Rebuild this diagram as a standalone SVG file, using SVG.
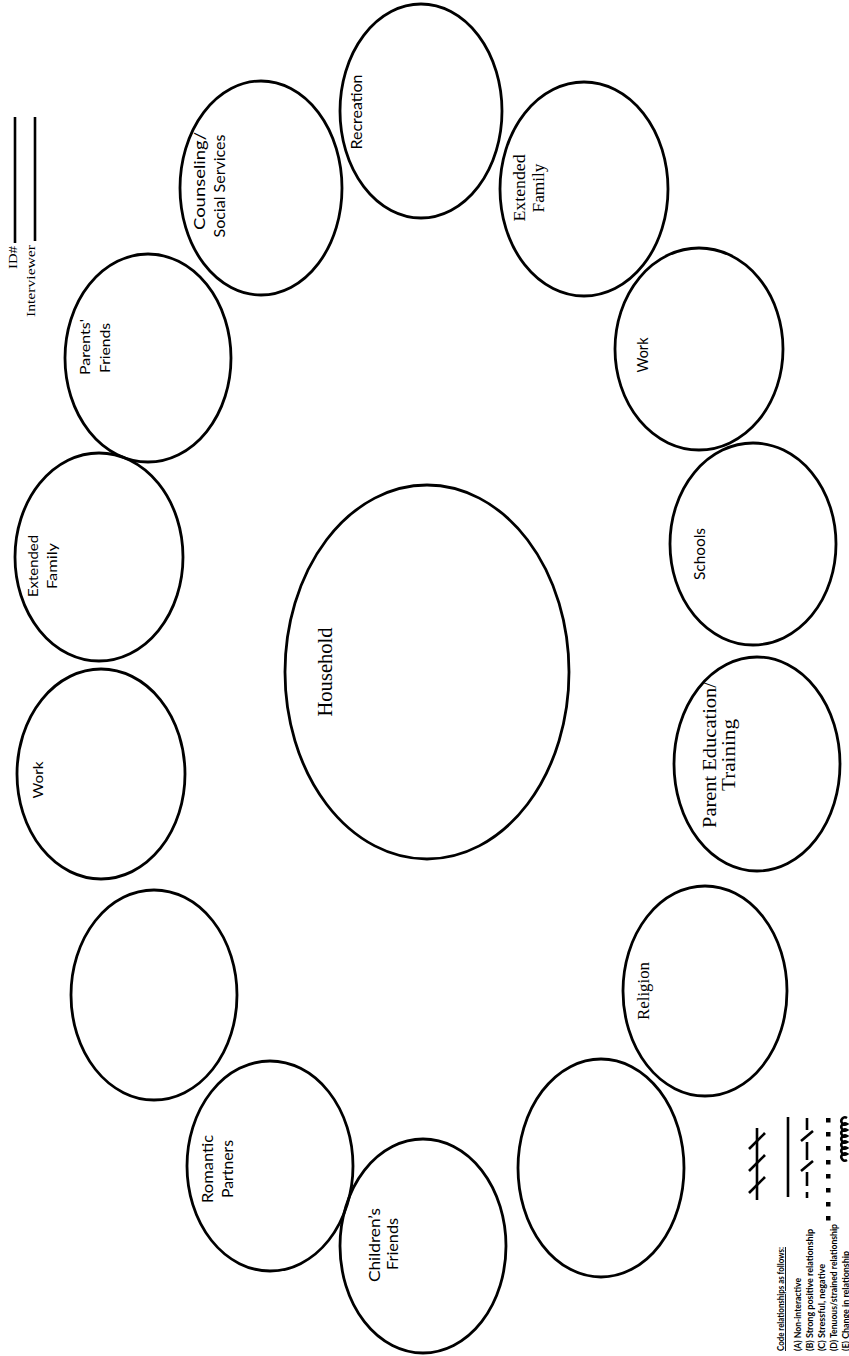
<svg xmlns="http://www.w3.org/2000/svg" width="849" height="1356" viewBox="0 0 849 1356">
<style>
.n{fill:none;stroke:#000;stroke-width:2.8}
.s{font-family:Lato,"Open Sans",sans-serif;font-size:15px;fill:#000}
.c{font-family:Lato,"Open Sans",sans-serif;font-size:14px;fill:#000}
.r{font-family:"Liberation Serif","DejaVu Serif",serif;font-size:17px;fill:#000}
.lg{font-family:Lato,"Open Sans",sans-serif;font-size:9px;font-weight:bold;fill:#000}
.ln{stroke:#000;stroke-width:2.6;fill:none}
</style>
<rect width="849" height="1356" fill="#fff"/>
<g id="header">
<line class="ln" x1="15" y1="117" x2="15" y2="243"/>
<line class="ln" x1="35" y1="117" x2="35" y2="241"/>
<text class="r" style="font-size:13px" transform="translate(17,246) rotate(-90)" text-anchor="end" textLength="23" lengthAdjust="spacingAndGlyphs">ID#</text>
<text class="r" style="font-size:13px" transform="translate(35,245) rotate(-90)" text-anchor="end" textLength="72" lengthAdjust="spacingAndGlyphs">Interviewer</text>
</g>
<g id="household"><ellipse class="n" cx="427" cy="672" rx="142" ry="187"/>
<text class="r" style="font-size:20px" transform="translate(332,672) rotate(-90)" text-anchor="middle" textLength="89" lengthAdjust="spacingAndGlyphs">Household</text></g>
<g id="recreation"><ellipse class="n" cx="421" cy="111" rx="81" ry="107"/>
<text class="s" style="font-size:16px" transform="translate(362,112) rotate(-90)" text-anchor="middle" textLength="75" lengthAdjust="spacingAndGlyphs">Recreation</text></g>
<g id="counseling"><ellipse class="n" cx="261" cy="188" rx="81" ry="107"/>
<text class="s" transform="translate(205,181) rotate(-90)" text-anchor="middle" textLength="98" lengthAdjust="spacingAndGlyphs">Counseling/</text>
<text class="s" transform="translate(225,186) rotate(-90)" text-anchor="middle" textLength="103" lengthAdjust="spacingAndGlyphs">Social Services</text></g>
<g id="parents-friends"><ellipse class="n" cx="148" cy="358" rx="83" ry="104"/>
<text class="c" transform="translate(90,347) rotate(-90)" text-anchor="middle" textLength="56" lengthAdjust="spacingAndGlyphs">Parents'</text>
<text class="c" transform="translate(110,348) rotate(-90)" text-anchor="middle" textLength="50" lengthAdjust="spacingAndGlyphs">Friends</text></g>
<g id="extended-family-left"><ellipse class="n" cx="99" cy="557" rx="84" ry="104"/>
<text class="c" transform="translate(38,566) rotate(-90)" text-anchor="middle" textLength="62" lengthAdjust="spacingAndGlyphs">Extended</text>
<text class="c" transform="translate(57,566) rotate(-90)" text-anchor="middle" textLength="46" lengthAdjust="spacingAndGlyphs">Family</text></g>
<g id="work-left"><ellipse class="n" cx="101" cy="774" rx="84" ry="105"/>
<text class="c" transform="translate(43,780) rotate(-90)" text-anchor="middle" textLength="37" lengthAdjust="spacingAndGlyphs">Work</text></g>
<g id="blank-left"><ellipse class="n" cx="154" cy="995" rx="83" ry="105"/></g>
<g id="romantic-partners"><ellipse class="n" cx="270" cy="1166" rx="83" ry="105"/>
<text class="s" transform="translate(213,1169) rotate(-90)" text-anchor="middle" textLength="68" lengthAdjust="spacingAndGlyphs">Romantic</text>
<text class="s" transform="translate(233,1169) rotate(-90)" text-anchor="middle" textLength="58" lengthAdjust="spacingAndGlyphs">Partners</text></g>
<g id="childrens-friends"><ellipse class="n" cx="423" cy="1246" rx="83" ry="107"/>
<text class="s" transform="translate(380,1245) rotate(-90)" text-anchor="middle" textLength="74" lengthAdjust="spacingAndGlyphs">Children’s</text>
<text class="s" transform="translate(398,1244) rotate(-90)" text-anchor="middle" textLength="52" lengthAdjust="spacingAndGlyphs">Friends</text></g>
<g id="blank-bottom-right"><ellipse class="n" cx="601" cy="1168" rx="83" ry="109"/></g>
<g id="religion"><ellipse class="n" cx="705" cy="991" rx="82" ry="105"/>
<text class="r" transform="translate(649,991) rotate(-90)" text-anchor="middle" textLength="58" lengthAdjust="spacingAndGlyphs">Religion</text></g>
<g id="parent-education"><ellipse class="n" cx="757" cy="764" rx="83" ry="107"/>
<text class="r" style="font-size:18px" transform="translate(716,755) rotate(-90)" text-anchor="middle" textLength="146" lengthAdjust="spacingAndGlyphs">Parent Education/</text>
<text class="r" style="font-size:18px" transform="translate(735,755) rotate(-90)" text-anchor="middle" textLength="72" lengthAdjust="spacingAndGlyphs">Training</text></g>
<g id="schools"><ellipse class="n" cx="753" cy="544" rx="83" ry="101"/>
<text class="s" transform="translate(705,554) rotate(-90)" text-anchor="middle" textLength="52" lengthAdjust="spacingAndGlyphs">Schools</text></g>
<g id="work-right"><ellipse class="n" cx="699" cy="349" rx="84" ry="101"/>
<text class="s" transform="translate(648,355) rotate(-90)" text-anchor="middle" textLength="35" lengthAdjust="spacingAndGlyphs">Work</text></g>
<g id="extended-family-right"><ellipse class="n" cx="584" cy="189" rx="84" ry="107"/>
<text class="r" style="font-size:16px" transform="translate(525,188) rotate(-90)" text-anchor="middle" textLength="67" lengthAdjust="spacingAndGlyphs">Extended</text>
<text class="r" style="font-size:16px" transform="translate(544,188) rotate(-90)" text-anchor="middle" textLength="49" lengthAdjust="spacingAndGlyphs">Family</text></g>
<g id="connectors"></g>
<g id="legend">
<text class="lg" transform="translate(784,1351) rotate(-90)" text-decoration="underline" textLength="104" lengthAdjust="spacingAndGlyphs">Code relationships as follows:</text>
<text class="lg" transform="translate(801,1351) rotate(-90)" textLength="73" lengthAdjust="spacingAndGlyphs">(A) Non-interactive</text>
<text class="lg" transform="translate(813,1351) rotate(-90)" textLength="122" lengthAdjust="spacingAndGlyphs">(B) Strong positive relationship</text>
<text class="lg" transform="translate(825,1351) rotate(-90)" textLength="87" lengthAdjust="spacingAndGlyphs">(C) Stressful, negative</text>
<text class="lg" transform="translate(837,1351) rotate(-90)" textLength="127" lengthAdjust="spacingAndGlyphs">(D) Tenuous/strained relationship</text>
<text class="lg" transform="translate(848.5,1351) rotate(-90)" textLength="100" lengthAdjust="spacingAndGlyphs">(E) Change in relationship</text>
<g class="ln" stroke-width="2.4">
<line x1="757" y1="1128" x2="757" y2="1200"/>
<line x1="749" y1="1149" x2="765" y2="1133"/>
<line x1="749" y1="1171" x2="765" y2="1155"/>
<line x1="749" y1="1193" x2="765" y2="1177"/>
<line x1="788" y1="1117" x2="788" y2="1197"/>
<path d="M807 1118V1130M807 1142V1160M807 1172V1186M807 1192V1198"/>
<line x1="801" y1="1141" x2="813" y2="1131"/>
<line x1="801" y1="1171" x2="813" y2="1161"/>
</g>
<g fill="#000">
<rect x="826" y="1118" width="4.5" height="4.5"/>
<rect x="826" y="1132" width="4.5" height="4.5"/>
<rect x="826" y="1146" width="4.5" height="4.5"/>
<rect x="826" y="1160" width="4.5" height="4.5"/>
<rect x="826" y="1174" width="4.5" height="4.5"/>
<rect x="826" y="1188" width="4.5" height="4.5"/>
<rect x="826" y="1202" width="4.5" height="4.5"/>
<rect x="826" y="1216" width="4.5" height="4.5"/>
</g>
<path class="ln" stroke-width="2" d="M847 1160A3.6 3.6 0 1 1 847 1154A3.6 3.6 0 1 1 847 1148A3.6 3.6 0 1 1 847 1142A3.6 3.6 0 1 1 847 1136A3.6 3.6 0 1 1 847 1130A3.6 3.6 0 1 1 847 1124A3.6 3.6 0 1 1 847 1118"/>
</g>
</svg>
